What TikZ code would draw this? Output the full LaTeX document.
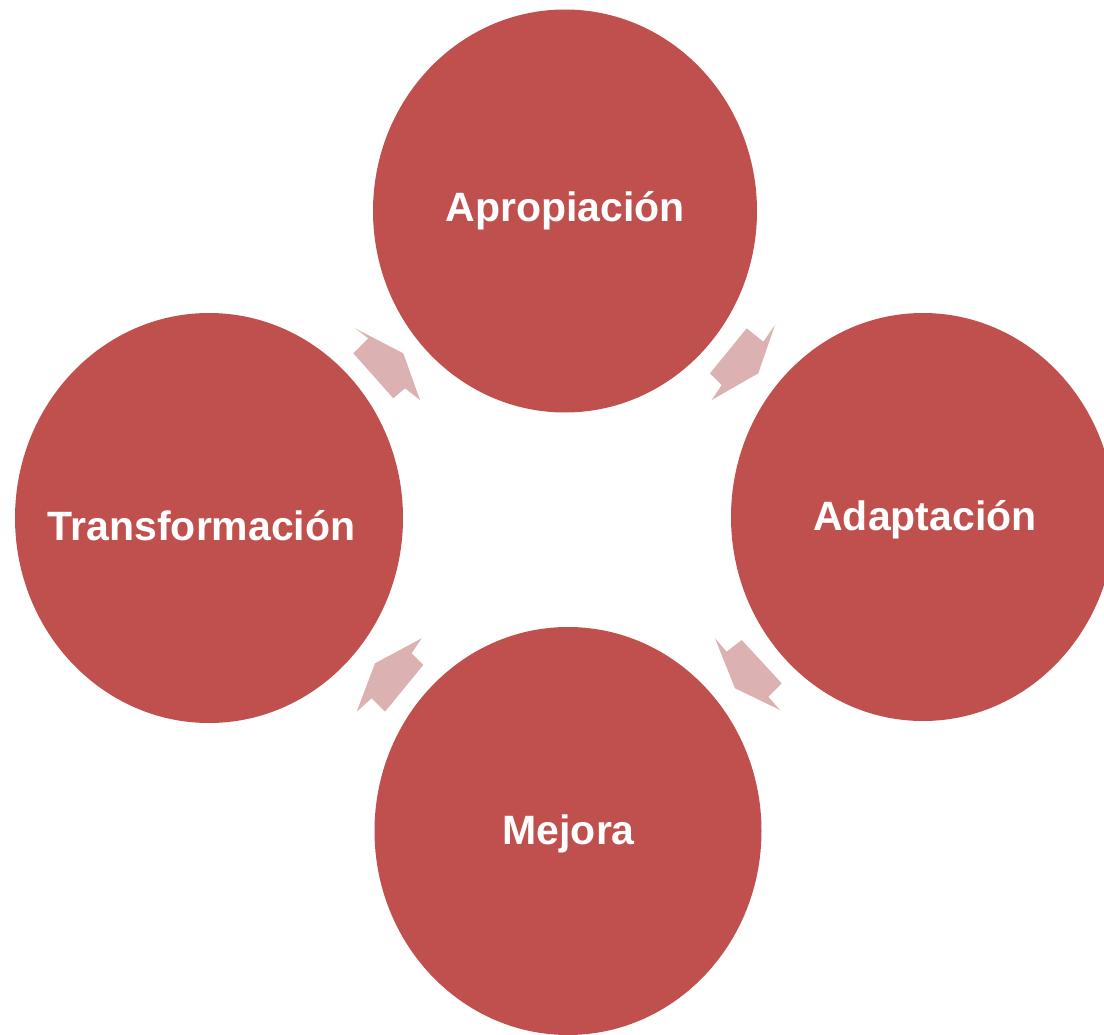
\documentclass[tikz,border=0pt]{standalone}
\usepackage{fontspec}
\setmainfont{Liberation Sans}
\usetikzlibrary{shapes.geometric}
\definecolor{circred}{HTML}{C0504D}
\definecolor{arrowpink}{HTML}{DBB2B1}
\tikzset{
  bubble/.style={ellipse, fill=circred, draw=none, inner sep=0pt},
  bubbletext/.style={anchor=base, text=white, inner sep=0pt,
    font=\fontsize{41}{49}\selectfont\bfseries},
  cyclearrow/.style={fill=arrowpink, draw=none}
}
\begin{document}
\begin{tikzpicture}[x=1pt,y=-1pt]
\useasboundingbox (0,0) rectangle (1104,1035);
\clip (0,0) rectangle (1104,1035);
% circles
\node[bubble, minimum width=384pt, minimum height=403pt] (apro) at (565,211) {};
\node[bubble, minimum width=384pt, minimum height=408pt] (adap) at (923,517) {};
\node[bubble, minimum width=387pt, minimum height=408pt] (mejo) at (568,831) {};
\node[bubble, minimum width=388pt, minimum height=410pt] (trans) at (209,518) {};
% labels
\node[bubbletext] (t1) at (565,221.7) {Apropiación};
\node[bubbletext] (t2) at (925,530.7) {Adaptación};
\node[bubbletext] (t3) at (568.7,844.3) {Mejora};
\node[bubbletext] (t4) at (201.7,540) {Transformación};
% arrows
\fill[cyclearrow] (355,328.3) -- (368.3,338.3) -- (353.3,353.3) -- (393.3,398.3)
  -- (405,388.3) -- (420,400) -- (403.3,353.3) -- cycle;
\fill[cyclearrow] (775,325) -- (763.3,341.7) -- (746.7,328.3) -- (710,373.3)
  -- (721.7,385) -- (711.7,400) -- (758.3,373.3) -- cycle;
\fill[cyclearrow] (715,638.3) -- (726.7,651.7) -- (741.7,640) -- (781.7,683.3)
  -- (768.3,696.7) -- (780,710) -- (735,688.3) -- cycle;
\fill[cyclearrow] (421.7,638.3) -- (411.7,653.3) -- (423.3,665) -- (385,711.7)
  -- (371.7,698.3) -- (356.7,711.7) -- (375,663.3) -- cycle;
\end{tikzpicture}
\end{document}
